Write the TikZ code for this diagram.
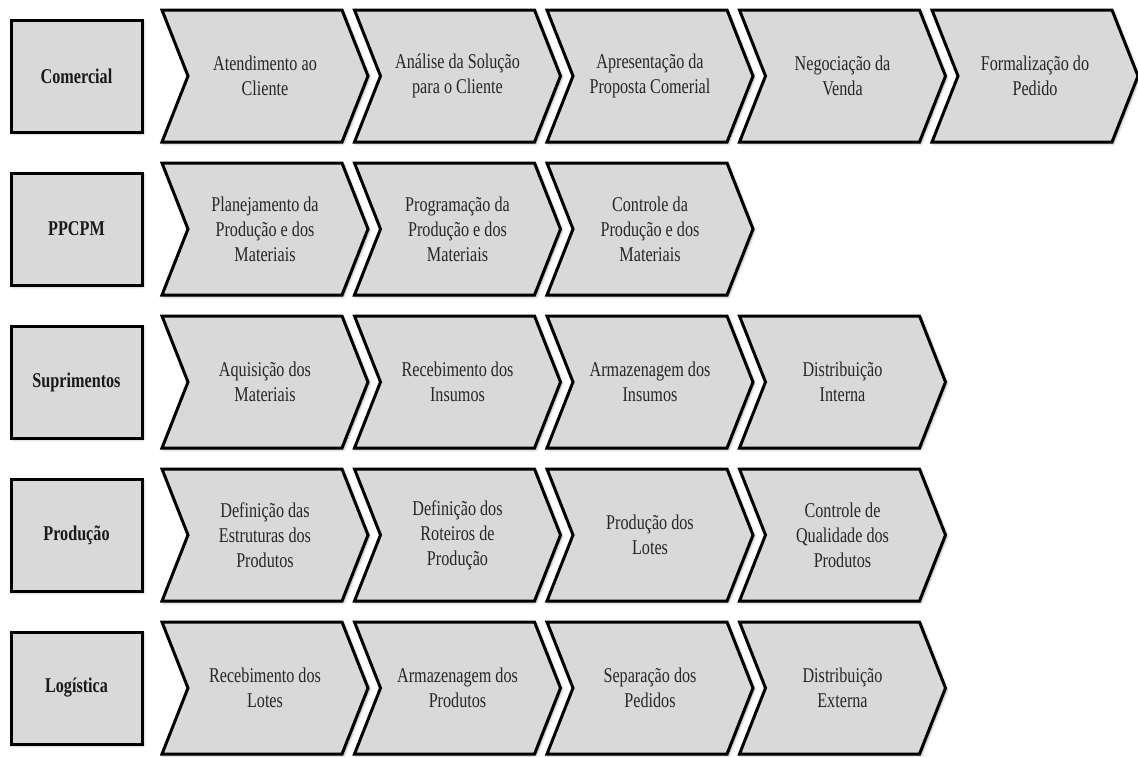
\documentclass[tikz,border=0pt]{standalone}
\usepackage{fontspec}
\setmainfont{Liberation Serif}[FakeStretch=0.77]
\usetikzlibrary{shadows.blur}
\definecolor{boxgray}{gray}{0.85}

% one process step: left x, top y, node name, label
\newcommand\stagechev[4]{%
  \path[stage] (#1,#2) -- ++(180,0) -- ++(26,66) -- ++(-26,66) -- ++(-180,0) -- ++(26,-66) -- cycle;
  \node[stagetext] (#3) at ({#1+103},{#2+66}) {#4};
}

\begin{document}
\begin{tikzpicture}[x=1pt,y=-1pt,
  stage/.style={draw=black, line width=3pt, fill=boxgray, line join=miter,
    blur shadow={shadow xshift=1.5pt, shadow yshift=-1.5pt, shadow blur radius=2.5pt, shadow opacity=40}},
  stagetext/.style={align=center, text=black!85, inner sep=0pt,
    font=\fontsize{21}{25}\selectfont},
  areabox/.style={stage, minimum width=131pt, minimum height=112pt, inner sep=0pt,
    align=center, text=black!90, font=\bfseries\fontsize{21}{25}\selectfont}
]
\useasboundingbox (0,0) rectangle (1138,756);

% process areas
\node[areabox] (comercial)   at (76.5, 76)  {Comercial};
\node[areabox] (ppcpm)       at (76.5, 229) {PPCPM};
\node[areabox] (suprimentos) at (76.5, 382) {Suprimentos};
\node[areabox] (producao)    at (76.5, 535) {Produção};
\node[areabox] (logistica)   at (76.5, 688) {Logística};

% Comercial
\stagechev{162}{10}{c1}{Atendimento ao\\Cliente}
\stagechev{354.5}{10}{c2}{Análise da Solução\\para o Cliente}
\stagechev{547}{10}{c3}{Apresentação da\\Proposta Comerial}
\stagechev{739.5}{10}{c4}{Negociação da\\Venda}
\stagechev{932}{10}{c5}{Formalização do\\Pedido}

% PPCPM
\stagechev{162}{163}{p1}{Planejamento da\\Produção e dos\\Materiais}
\stagechev{354.5}{163}{p2}{Programação da\\Produção e dos\\Materiais}
\stagechev{547}{163}{p3}{Controle da\\Produção e dos\\Materiais}

% Suprimentos
\stagechev{162}{316}{s1}{Aquisição dos\\Materiais}
\stagechev{354.5}{316}{s2}{Recebimento dos\\Insumos}
\stagechev{547}{316}{s3}{Armazenagem dos\\Insumos}
\stagechev{739.5}{316}{s4}{Distribuição\\Interna}

% Produção
\stagechev{162}{469}{r1}{Definição das\\Estruturas dos\\Produtos}
\stagechev{354.5}{469}{r2}{Definição dos\\Roteiros de\\Produção}
\stagechev{547}{469}{r3}{Produção dos\\Lotes}
\stagechev{739.5}{469}{r4}{Controle de\\Qualidade dos\\Produtos}

% Logística
\stagechev{162}{622}{l1}{Recebimento dos\\Lotes}
\stagechev{354.5}{622}{l2}{Armazenagem dos\\Produtos}
\stagechev{547}{622}{l3}{Separação dos\\Pedidos}
\stagechev{739.5}{622}{l4}{Distribuição\\Externa}
\end{tikzpicture}
\end{document}
